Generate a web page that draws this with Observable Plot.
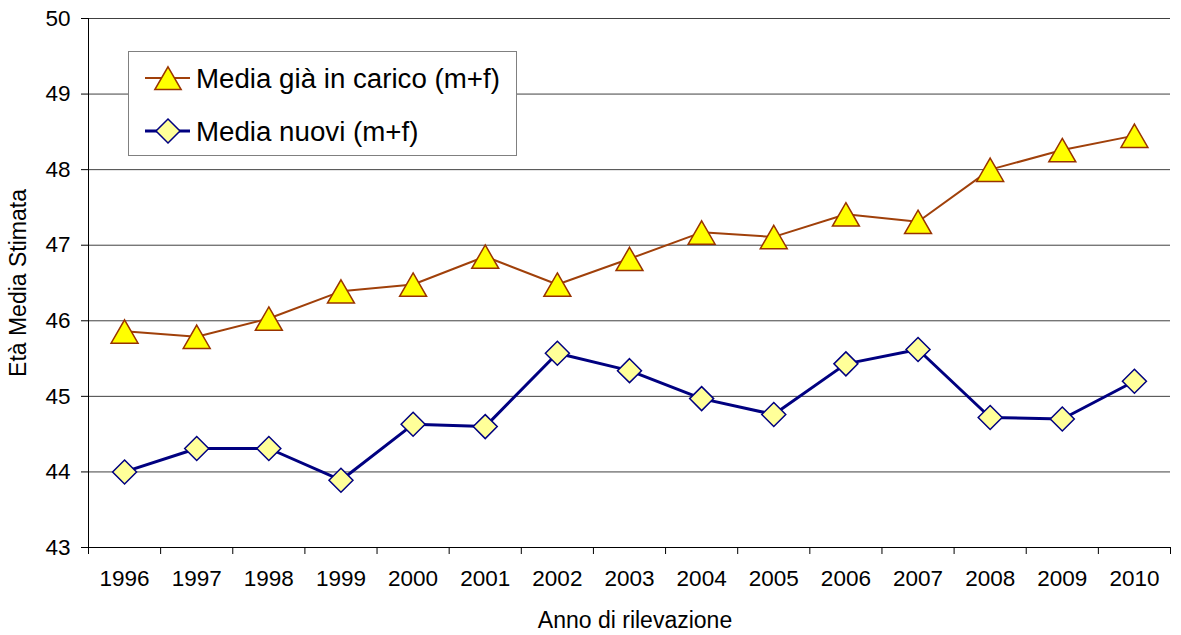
<!DOCTYPE html>
<html><head><meta charset="utf-8">
<script src="https://cdn.jsdelivr.net/npm/d3@7"></script>
<script src="https://cdn.jsdelivr.net/npm/@observablehq/plot@0.6"></script>
<style>
body{margin:0;background:#fff;font-family:"Liberation Sans",Arial,sans-serif;color:#000;}
#wrap{position:relative;width:1181px;height:635px;overflow:hidden;}
.ttl{position:absolute;font-size:23px;white-space:nowrap;line-height:1;}
#ylab{left:18px;top:283px;transform:translate(-50%,-50%) rotate(-90deg);}
#xlab{left:635px;top:620px;transform:translate(-50%,-50%);}
#legend{position:absolute;left:0;top:0;}
</style>
</head><body>
<div id="wrap">
  <div id="chart"></div>
  <div class="ttl" id="ylab">Età Media Stimata</div>
  <div class="ttl" id="xlab">Anno di rilevazione</div>
</div>
<script>
const years = [1996,1997,1998,1999,2000,2001,2002,2003,2004,2005,2006,2007,2008,2009,2010];
const mediaGiaInCarico = [45.86,45.79,46.03,46.39,46.48,46.85,46.48,46.82,47.17,47.11,47.41,47.31,48.00,48.26,48.45];
const mediaNuovi = [44.00,44.31,44.31,43.89,44.63,44.60,45.57,45.34,44.97,44.76,45.43,45.62,44.72,44.70,45.20];
const yTicks = [43,44,45,46,47,48,49,50];
const seriesNames = ["Media già in carico (m+f)","Media nuovi (m+f)"];

const table = years.map((y,i)=>({year:y, gia:mediaGiaInCarico[i], nuovi:mediaNuovi[i]}));
const bandEdges = years.map(y=>y-0.5).concat([years[years.length-1]+0.5]);

const orangeLine = "#A0400A", orangeStroke = "#993300", yellow = "#FFFF00";
const navy = "#000080", paleYellow = "#FFFF99";

const chart = Plot.plot({
  width:1181, height:635,
  marginLeft:88, marginRight:11, marginTop:18, marginBottom:88,
  style:{fontFamily:"Liberation Sans, Arial, sans-serif", background:"#fff", color:"#000", fontSize:"22.5px"},
  x:{type:"linear", domain:[years[0]-0.5, years[years.length-1]+0.5]},
  y:{domain:[43,50]},
  marks:[
    Plot.gridY(yTicks.filter(d=>d>43), {stroke:"#404040", strokeOpacity:1, strokeWidth:1}),
    Plot.ruleX([years[0]-0.5], {stroke:"#000", strokeWidth:1}),
    Plot.ruleY([43], {stroke:"#000", strokeWidth:1}),
    Plot.axisY(yTicks, {tickSize:7, tickPadding:11, fontSize:22.5, label:null, stroke:"#000", tickFormat:d=>String(d)}),
    Plot.axisX(bandEdges, {tickSize:7, tickFormat:()=>"", label:null, stroke:"#000"}),
    Plot.axisX(years, {tickSize:0, tickPadding:23, fontSize:22.5, tickFormat:d=>String(d), label:null}),
    Plot.line(table, {x:"year", y:"gia", stroke:orangeLine, strokeWidth:2}),
    Plot.line(table, {x:"year", y:"nuovi", stroke:navy, strokeWidth:3}),
    Plot.dot(table, {x:"year", y:"gia", symbol:"triangle", r:10, fill:yellow, stroke:orangeStroke, strokeWidth:1.5, dy:4}),
    Plot.dot(table, {x:"year", y:"nuovi", symbol:"diamond2", r:10.8, fill:paleYellow, stroke:navy, strokeWidth:1.5})
  ]
});
document.getElementById("chart").appendChild(chart);

// legend
const wrap = d3.select("#wrap");
const lg = wrap.append("svg").attr("id","legend").attr("width",1181).attr("height",635)
  .style("font-family","Liberation Sans, Arial, sans-serif");
lg.append("rect").attr("x",128.5).attr("y",51.5).attr("width",388).attr("height",104)
  .attr("fill","#fff").attr("stroke","#808080").attr("stroke-width",1);
const rows = [
  {name:seriesNames[0], y:78, stroke:orangeLine, sw:2, sym:d3.symbolTriangle, size:300, fill:yellow, mstroke:orangeStroke, dy:4},
  {name:seriesNames[1], y:131, stroke:navy, sw:3, sym:d3.symbolDiamond2, size:Math.PI*10.8*10.8, fill:paleYellow, mstroke:navy, dy:0}
];
rows.forEach(r=>{
  lg.append("line").attr("x1",145).attr("x2",190).attr("y1",r.y).attr("y2",r.y).attr("stroke",r.stroke).attr("stroke-width",r.sw);
  lg.append("path").attr("d",d3.symbol(r.sym, r.size)()).attr("transform",`translate(168,${r.y+r.dy})`)
    .attr("fill",r.fill).attr("stroke",r.mstroke).attr("stroke-width",1.5);
  lg.append("text").attr("x",196).attr("y",r.y).attr("dy","0.35em").attr("font-size",27.7).text(r.name);
});
</script>
</body></html>
